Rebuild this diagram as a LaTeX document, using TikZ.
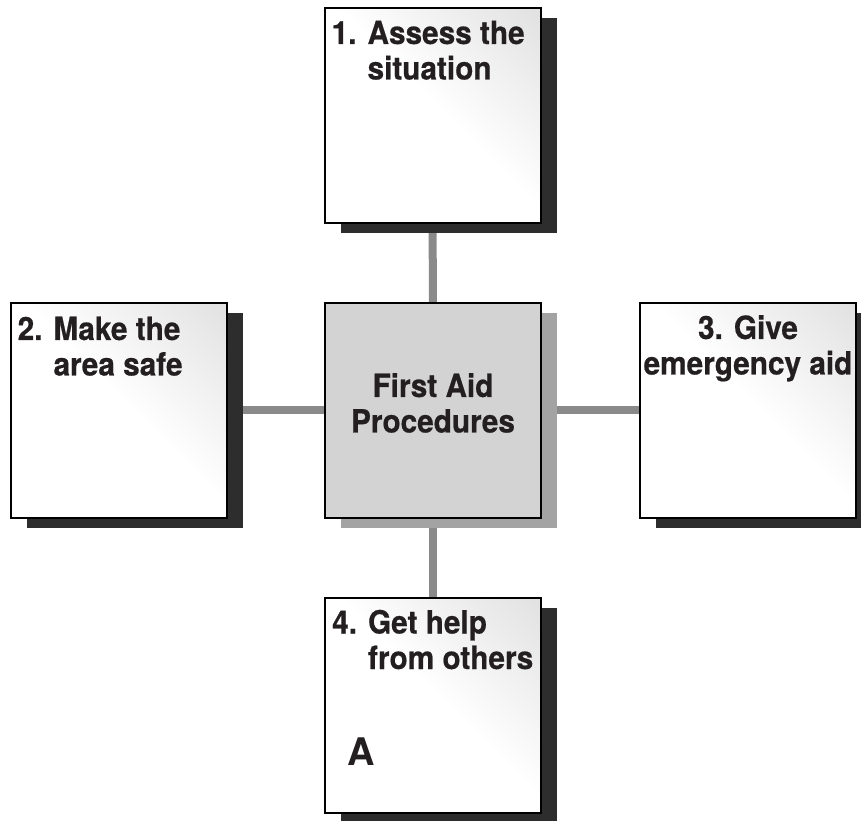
\documentclass[tikz,border=0pt]{standalone}
\usepackage{fontspec}
\newfontfamily\boxfont[FakeStretch=0.93,FakeBold=0.5]{texgyreheros-bold.otf}
\newfontfamily\markfont{texgyreheros-bold.otf}
\usetikzlibrary{calc,shadows}
\definecolor{ShadowDark}{RGB}{45,45,45}
\definecolor{ShadowLight}{RGB}{163,163,163}
\definecolor{HubGray}{RGB}{211,211,211}
\definecolor{LinkGray}{RGB}{138,138,138}
\definecolor{CornerGray}{RGB}{212,212,212}
\definecolor{InkBlack}{RGB}{35,31,32}
\pgfdeclareverticalshading{cornerfade}{100bp}{color(0bp)=(white); color(52bp)=(white); color(100bp)=(CornerGray)}
\tikzset{
	panel/.style={draw=black,line width=2pt,minimum width=216pt,minimum height=215pt,inner sep=0pt},
	card/.style={panel,shade,shading=cornerfade,shading angle=-45,
		drop shadow={shadow xshift=16pt,shadow yshift=-10pt,fill=ShadowDark,opacity=1}},
	hub/.style={panel,fill=HubGray,
		drop shadow={shadow xshift=16pt,shadow yshift=-10pt,fill=ShadowLight,opacity=1}},
	link/.style={draw=LinkGray,line width=8pt},
	caption/.style={font=\boxfont\fontsize{32}{35.5}\selectfont,text=InkBlack,inner sep=0pt},
}

\begin{document}
\begin{tikzpicture}[x=1pt,y=1pt]
			\useasboundingbox (0,0) rectangle (861,820);
			\coordinate (c0) at (433,409.5);
			\coordinate (c1) at (432.5,704.5);
			\coordinate (c2) at (118.5,409.5);
			\coordinate (c3) at (748,409.5);
			\coordinate (c4) at (433,115);
			\draw[link] (c0)--(c1);
			\draw[link] (c0)--(c2);
			\draw[link] (c0)--(c3);
			\draw[link] (c0)--(c4);
			\node[hub] (center) at (c0) {};
			\node[card] (assess) at (c1) {};
			\node[card] (safe) at (c2) {};
			\node[card] (aid) at (c3) {};
			\node[card] (help) at (c4) {};
			% texts
			\node[caption,anchor=base] (centertext) at ($(center.north)+(0,-95)$)
				{\begin{tabular}[t]{@{}c@{}}First Aid\\Procedures\end{tabular}};
			\node[caption,anchor=base west] (assesstext) at ($(assess.north west)+(8,-37)$)
				{\begin{tabular}[t]{@{}l@{ }l@{}}1.&Assess the\\&situation\end{tabular}};
			\node[caption,anchor=base west] (safetext) at ($(safe.north west)+(8,-38)$)
				{\begin{tabular}[t]{@{}l@{ }l@{}}2.&Make the\\&area safe\end{tabular}};
			\node[caption,anchor=base] (aidtext) at ($(aid.north)+(0,-37)$)
				{\begin{tabular}[t]{@{}c@{}}3. Give\\emergency aid\end{tabular}};
			\node[caption,anchor=base west] (helptext) at ($(help.north west)+(8,-37)$)
				{\begin{tabular}[t]{@{}l@{ }l@{}}4.&Get help\\&from others\end{tabular}};
			\node[caption,font=\markfont\fontsize{38}{40}\selectfont,anchor=base west] (mark) at ($(help.north west)+(23,-169)$) {A};
		\end{tikzpicture}
\end{document}
